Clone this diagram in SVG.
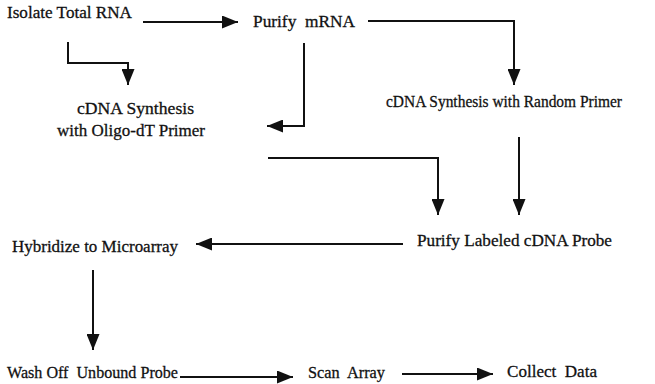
<svg xmlns="http://www.w3.org/2000/svg" width="655" height="384" viewBox="0 0 655 384">
  <style>
    .lbl { font-family: "Liberation Serif", "Times New Roman", serif; font-size: 17.5px; fill: #111; stroke: #111; stroke-width: 0.3px; }
    .wire { fill: none; stroke: #111; stroke-width: 2; }
  </style>
  <defs>
    <marker id="head" markerUnits="userSpaceOnUse" markerWidth="16" markerHeight="13" refX="16" refY="6.5" orient="auto">
      <path d="M0,0 L16,6.5 L0,13 z" fill="#111"/>
    </marker>
  </defs>
  <rect width="655" height="384" fill="#fff"/>

  <g id="connectors">
    <path class="wire" d="M143,22 H238" marker-end="url(#head)"/>
    <path class="wire" d="M68,42 V63 H128 V85" marker-end="url(#head)"/>
    <path class="wire" d="M304,43 V126 H267" marker-end="url(#head)"/>
    <path class="wire" d="M368,21 H514 V85" marker-end="url(#head)"/>
    <path class="wire" d="M519,137 V215" marker-end="url(#head)"/>
    <path class="wire" d="M268,158 H438 V215" marker-end="url(#head)"/>
    <path class="wire" d="M403,244 H196" marker-end="url(#head)"/>
    <path class="wire" d="M93,270 V350" marker-end="url(#head)"/>
    <path class="wire" d="M180,377 H293" marker-end="url(#head)"/>
    <path class="wire" d="M402,374 H493" marker-end="url(#head)"/>
  </g>

  <g id="isolate-rna">
    <text class="lbl" x="7" y="18" textLength="125" lengthAdjust="spacingAndGlyphs">Isolate Total RNA</text>
  </g>
  <g id="purify-mrna">
    <text class="lbl" x="253" y="27" textLength="102" lengthAdjust="spacingAndGlyphs" xml:space="preserve">Purify  mRNA</text>
  </g>
  <g id="cdna-oligo">
    <text class="lbl" x="77" y="114" textLength="117" lengthAdjust="spacingAndGlyphs">cDNA Synthesis</text>
    <text class="lbl" x="57" y="136" textLength="148" lengthAdjust="spacingAndGlyphs">with Oligo-dT Primer</text>
  </g>
  <g id="cdna-random">
    <text class="lbl" x="386" y="107" textLength="236" lengthAdjust="spacingAndGlyphs">cDNA Synthesis with Random Primer</text>
  </g>
  <g id="purify-probe">
    <text class="lbl" x="417" y="246" textLength="195" lengthAdjust="spacingAndGlyphs">Purify Labeled cDNA Probe</text>
  </g>
  <g id="hybridize">
    <text class="lbl" x="12" y="252" textLength="166" lengthAdjust="spacingAndGlyphs">Hybridize to Microarray</text>
  </g>
  <g id="wash">
    <text class="lbl" x="7" y="378" textLength="171" lengthAdjust="spacingAndGlyphs" xml:space="preserve">Wash Off  Unbound Probe</text>
  </g>
  <g id="scan">
    <text class="lbl" x="308" y="378" textLength="77" lengthAdjust="spacingAndGlyphs" xml:space="preserve">Scan  Array</text>
  </g>
  <g id="collect">
    <text class="lbl" x="507" y="377" textLength="90" lengthAdjust="spacingAndGlyphs" xml:space="preserve">Collect  Data</text>
  </g>
</svg>
